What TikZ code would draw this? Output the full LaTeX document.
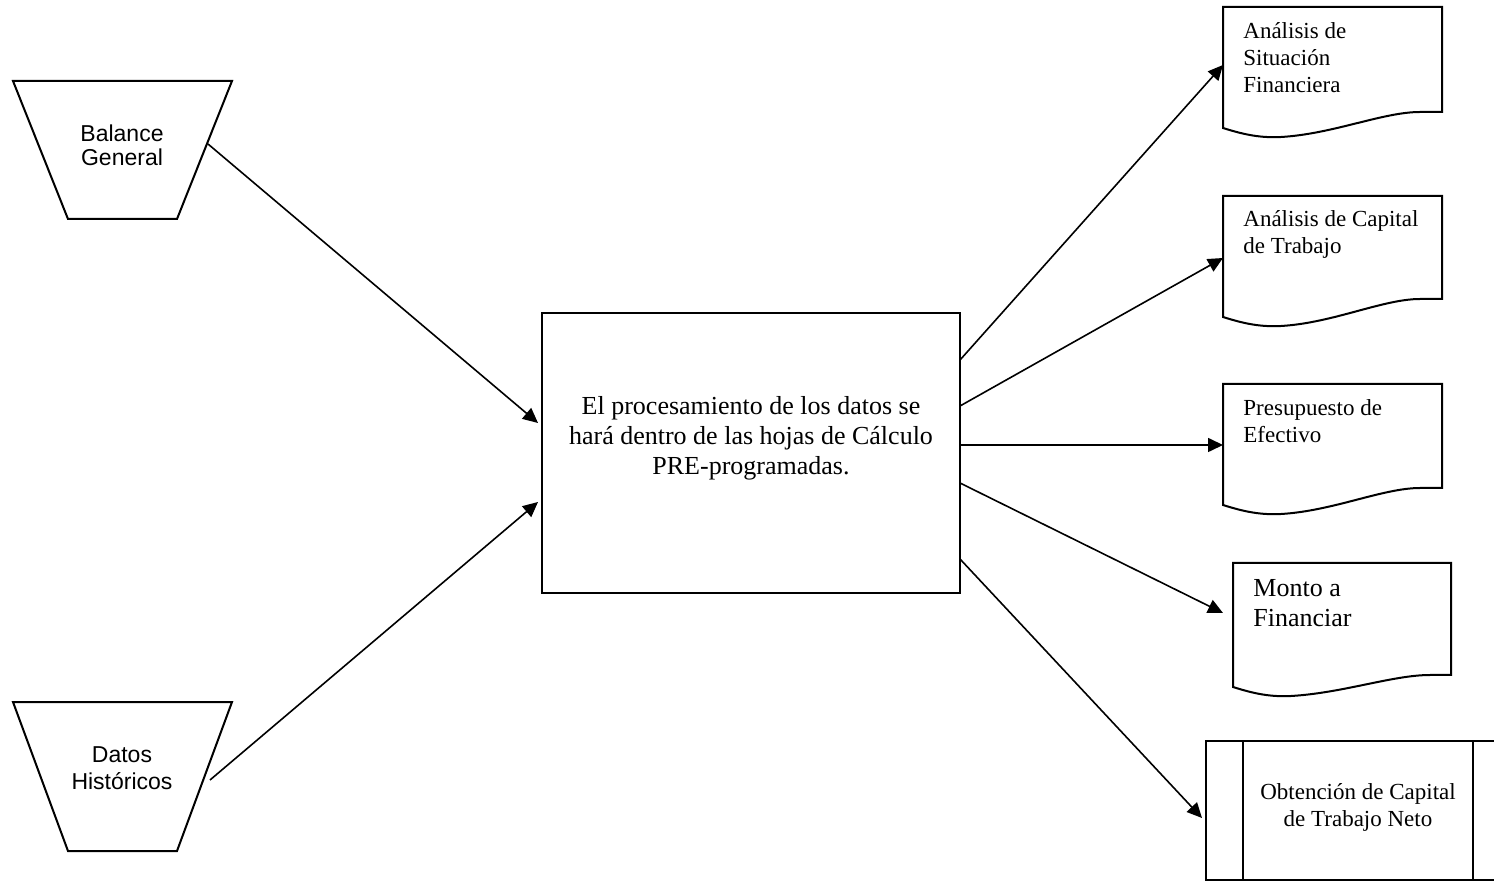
\documentclass[tikz,border=0pt]{standalone}
\usepackage{fontspec}
\setmainfont{Liberation Serif}
\newfontfamily\arialfont{Liberation Sans}
\usetikzlibrary{arrows.meta}
\tikzset{
  shapeline/.style={draw=black, line width=1pt, line join=miter},
  conn/.style={draw=black, line width=0.8pt, -{Triangle[length=7.5pt,width=7pt]}},
  doctext/.style={font=\fontsize{11.5}{13.5}\selectfont, align=left, anchor=base west, inner sep=0pt},
  bigdoctext/.style={font=\fontsize{13}{14.5}\selectfont, align=left, anchor=base west, inner sep=0pt},
  sanstext/.style={font=\arialfont\fontsize{11.5}{12}\selectfont, align=center, inner sep=0pt},
  sanstextwide/.style={font=\arialfont\fontsize{11.5}{13.5}\selectfont, align=center, inner sep=0pt},
  proctext/.style={font=\fontsize{13}{15}\selectfont, align=center, inner sep=0pt},
}
\newcommand\docoutline[5]{% L T R B LB
  \draw[shapeline] (#3,#4) -- (#3,#2) -- (#1,#2) -- (#1,#5)
    .. controls ({#1+22},{#5+7}) and ({#1+38},{#5+10}) .. ({#1+58},{#5+9})
    .. controls ({#1+110},{#5+6}) and ({#1+160},#4) .. ({#1+197},#4) -- cycle;}
\begin{document}
\begin{tikzpicture}[x=0.5pt,y=-0.5pt]
\useasboundingbox (0,0) rectangle (1494,881);
\clip (0,0) rectangle (1494,881);
\fill[white] (0,0) rectangle (1494,881);

% input trapezoids
\draw[shapeline] (13,81) -- (232,81) -- (177,219) -- (68,219) -- cycle;
\node[sanstext] (bal) at (122,145) {Balance\\General};
\coordinate (balout) at (208,144);

\draw[shapeline] (13,702) -- (232,702) -- (177,851) -- (68,851) -- cycle;
\node[sanstextwide] (dat) at (122,768) {Datos\\Históricos};
\coordinate (datout) at (210,780);

% process box
\node[shapeline, minimum width=209pt, minimum height=140pt, inner sep=0pt] (proc) at (751,453) {};
\node[proctext] (proctxt) at (751,438) {El procesamiento de los datos se\\hará dentro de las hojas de Cálculo\\PRE-programadas.};
\coordinate (pin1) at (538,423);
\coordinate (pin2) at (538,502);
\coordinate (pout1) at (960,360);
\coordinate (pout2) at (960,406);
\coordinate (pout3) at (960,445);
\coordinate (pout4) at (960,483);
\coordinate (pout5) at (960,559);

% documents
\docoutline{1223}{7}{1442}{112}{128}
\node[doctext] (d1) at (1243,93) {Análisis de\\Situación\\Financiera};
\coordinate (d1in) at (1223,65);

\docoutline{1223}{196}{1442}{299}{317}
\node[doctext] (d2) at (1243,254) {Análisis de Capital\\de Trabajo};
\coordinate (d2in) at (1223,258);

\docoutline{1223}{384}{1442}{488}{505}
\node[doctext] (d3) at (1243,443) {Presupuesto de\\Efectivo};
\coordinate (d3in) at (1223,445);

\docoutline{1233}{563}{1451}{675}{687}
\node[bigdoctext] (d4) at (1253,626) {Monto a\\Financiar};
\coordinate (d4in) at (1223,613);

% predefined process
\draw[shapeline] (1206,741) rectangle (1510,880);
\draw[shapeline] (1243,741) -- (1243,880);
\draw[shapeline] (1473,741) -- (1473,880);
\node[doctext, align=center, anchor=center] (pp) at (1358,807) {Obtención de Capital\\de Trabajo Neto};
\coordinate (ppin) at (1202,818);

% connectors
\draw[conn] (balout) -- (pin1);
\draw[conn] (datout) -- (pin2);
\draw[conn] (pout1) -- (d1in);
\draw[conn] (pout2) -- (d2in);
\draw[conn] (pout3) -- (d3in);
\draw[conn] (pout4) -- (d4in);
\draw[conn] (pout5) -- (ppin);
\end{tikzpicture}
\end{document}
